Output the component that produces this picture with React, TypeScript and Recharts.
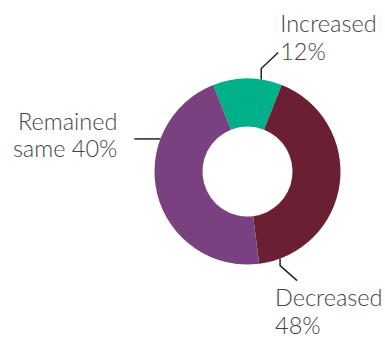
import React from "react";
import { PieChart, Pie, Cell } from "recharts";

document.body.style.margin = "0";

const categories = ["Increased", "Decreased", "Remained same"];
// slice sizes as drawn in the picture
const shares = [12, 42, 46];
// label texts as printed on the chart
const labelLines = [
  ["Increased", "12%"],
  ["Decreased", "48%"],
  ["Remained", "same 40%"],
];
const colors = ["#00b088", "#6a1f33", "#7a4180"];

const data = categories.map((name, i) => ({ name, value: shares[i] }));

// where each leader line leaves the ring (degrees clockwise from top) and how it bends
const leaders = [
  { angle: 8.5, bend: [0, -11], end: [17, -27], text: [19, -47.5], anchor: "start" },
  { angle: 159.5, bend: [0, 7], end: [17, 22], text: [-5, 47.5], anchor: "start" },
  { angle: 290.5, bend: [0, 0], end: [-26, 0], text: [-43, -9], anchor: "end" },
];

const RAD = Math.PI / 180;

function renderLabel(props: any) {
  const { cx, cy, outerRadius, index } = props;
  const l = leaders[index];
  const x0 = cx + outerRadius * Math.sin(l.angle * RAD);
  const y0 = cy - outerRadius * Math.cos(l.angle * RAD);
  const x1 = x0 + l.bend[0];
  const y1 = y0 + l.bend[1];
  const x2 = x0 + l.end[0];
  const y2 = y0 + l.end[1];
  const tx = x0 + l.text[0];
  const ty = y0 + l.text[1];
  return (
    <g key={`lbl-${index}`}>
      <path d={`M${x0},${y0}L${x1},${y1}L${x2},${y2}`} stroke="#222" strokeWidth={1.5} fill="none" />
      <text
        x={tx}
        y={ty}
        textAnchor={l.anchor}
        fill="#444"
        fontFamily="Lato, sans-serif"
        fontWeight={300}
        fontSize={23.5}
      >
        {labelLines[index].map((t, j) => (
          <tspan key={j} x={tx} dy={j === 0 ? 0 : 27.5}>
            {t}
          </tspan>
        ))}
      </text>
    </g>
  );
}

export default function App() {
  return (
    <PieChart width={385} height={338} margin={{ top: 0, right: 0, bottom: 0, left: 0 }}>
      <Pie
        data={data}
        dataKey="value"
        nameKey="name"
        cx={247.5}
        cy={171.5}
        innerRadius={45}
        outerRadius={93}
        startAngle={90 + 21.6}
        endAngle={90 + 21.6 - 360}
        stroke="none"
        label={renderLabel}
        labelLine={false}
        isAnimationActive={false}
      >
        {data.map((d, i) => (
          <Cell key={d.name} fill={colors[i]} />
        ))}
      </Pie>
    </PieChart>
  );
}
